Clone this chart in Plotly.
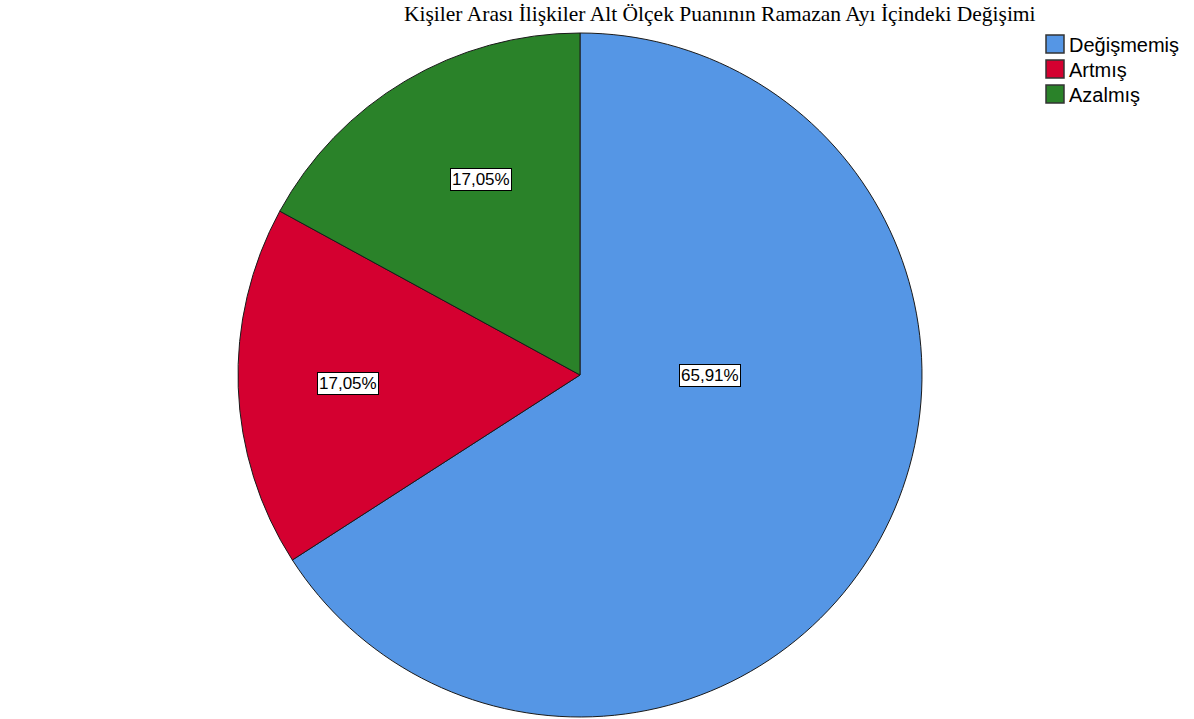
import math
import plotly.graph_objects as go

# Data
categories = ["Değişmemiş", "Artmış", "Azalmış"]
percentages = [65.91, 17.05, 17.05]
colors = ["#5596E5", "#D40030", "#2A8229"]

title_text = "Kişiler Arası İlişkiler Alt Ölçek Puanının Ramazan Ayı İçindeki Değişimi"

W, H = 1194, 719
cx_px, cy_px, r_px = 580, 375, 342

fig = go.Figure(
    go.Pie(
        labels=categories,
        values=percentages,
        marker=dict(colors=colors, line=dict(color="#1a1a1a", width=1)),
        sort=False,
        direction="clockwise",
        rotation=0,
        textinfo="none",
        hoverinfo="label+percent",
        showlegend=False,
        domain=dict(
            x=[(cx_px - r_px) / W, (cx_px + r_px) / W],
            y=[1 - (cy_px + r_px) / H, 1 - (cy_px - r_px) / H],
        ),
    )
)

label_font = "Liberation Sans Narrow, Arial Narrow, Liberation Sans, Arial"

# Boxed percentage labels placed inside each slice
total = sum(percentages)
label_radius = [0.38, 0.68, 0.64]
label_angle_override = [90, None, 333]
annotations = []
start = 0.0
for i, v in enumerate(percentages):
    span = 360 * v / total
    mid = start + span / 2
    ang = label_angle_override[i] if label_angle_override[i] is not None else mid
    start += span
    a = math.radians(ang)
    px = cx_px + r_px * label_radius[i] * math.sin(a)
    py = cy_px - r_px * label_radius[i] * math.cos(a)
    annotations.append(dict(
        x=px / W, y=1 - py / H, xref="paper", yref="paper",
        xanchor="center", yanchor="middle",
        text=f"{v:.2f}%".replace(".", ","),
        showarrow=False,
        font=dict(family=label_font, size=17, color="#000000"),
        bgcolor="#ffffff", bordercolor="#000000", borderwidth=1, borderpad=1,
    ))

# Title
annotations.append(dict(
    x=720 / W, y=1 - 14 / H, xref="paper", yref="paper",
    xanchor="center", yanchor="middle",
    text=title_text, showarrow=False,
    font=dict(family="Liberation Serif, Times New Roman", size=21.5, color="#000000"),
))

# Legend: swatches with category names
shapes = []
leg_x0, leg_y0, box, step = 1046, 35, 18, 25
for i, (name, col) in enumerate(zip(categories, colors)):
    top = leg_y0 + step * i
    shapes.append(dict(
        type="rect", xref="paper", yref="paper",
        x0=leg_x0 / W, x1=(leg_x0 + box) / W,
        y0=1 - (top + box) / H, y1=1 - top / H,
        fillcolor=col, line=dict(color="#333333", width=1.5),
    ))
    annotations.append(dict(
        x=(leg_x0 + box + 3) / W, y=1 - (top + box / 2 + 1) / H,
        xref="paper", yref="paper", xanchor="left", yanchor="middle",
        text=name, showarrow=False,
        font=dict(family=label_font, size=20, color="#000000"),
    ))

fig.update_layout(
    width=W, height=H,
    margin=dict(l=0, r=0, t=0, b=0),
    paper_bgcolor="#ffffff",
    plot_bgcolor="#ffffff",
    showlegend=False,
    annotations=annotations,
    shapes=shapes,
)

fig.write_html("out.html")
